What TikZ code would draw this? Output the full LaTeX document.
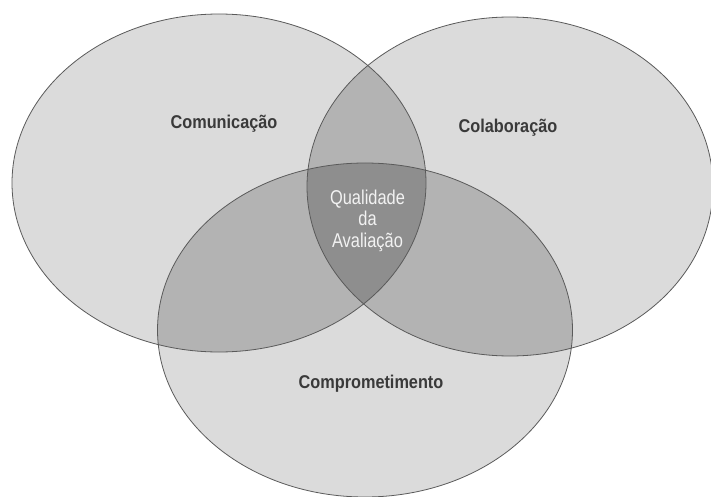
\documentclass[tikz,border=0pt]{standalone}
\usepackage{fontspec}
\newfontfamily\labfont[FakeStretch=0.88]{Liberation Sans}
\newfontfamily\cenfont[FakeStretch=0.82]{Liberation Sans}
\definecolor{one}{HTML}{DBDBDB}
\definecolor{two}{HTML}{B3B3B3}
\definecolor{three}{HTML}{8E8E8E}
\definecolor{edge}{HTML}{5A5A5A}
\definecolor{labtext}{HTML}{3A3A3A}
\begin{document}
\begin{tikzpicture}[x=1pt,y=-1pt,
  label/.style={text=labtext,font=\labfont\bfseries\fontsize{18.5}{22}\selectfont,anchor=base,inner sep=0pt},
  center/.style={text=white!95!black,font=\cenfont\fontsize{20}{22}\selectfont,anchor=base,inner sep=0pt},
  outline/.style={draw=edge,line width=0.8pt}]
\useasboundingbox (0,0) rectangle (711,497);
\def\ellL{(219,183) ellipse [x radius=207,y radius=169]}
\def\ellR{(510,186.5) ellipse [x radius=203,y radius=169.5]}
\def\ellB{(365,330) ellipse [x radius=207.5,y radius=167]}
\begin{scope}
  \clip (0,0) rectangle (711,497);
  \fill[one] \ellL;
  \fill[one] \ellR;
  \fill[one] \ellB;
  \begin{scope}\clip \ellL; \fill[two] \ellR; \fill[two] \ellB; \end{scope}
  \begin{scope}\clip \ellR; \fill[two] \ellB; \end{scope}
  \begin{scope}\clip \ellL; \clip \ellR; \fill[three] \ellB; \end{scope}
  \draw[outline] \ellL;
  \draw[outline] \ellR;
  \draw[outline] \ellB;
\end{scope}
\node[label] (com) at (224,129) {Comunicação};
\node[label] (col) at (508,133) {Colaboração};
\node[label] (cmp) at (371,388) {Comprometimento};
\node[center] (q1) at (367.5,204) {Qualidade};
\node[center] (q2) at (367.5,225.5) {da};
\node[center] (q3) at (367.5,247) {Avaliação};
\end{tikzpicture}
\end{document}
